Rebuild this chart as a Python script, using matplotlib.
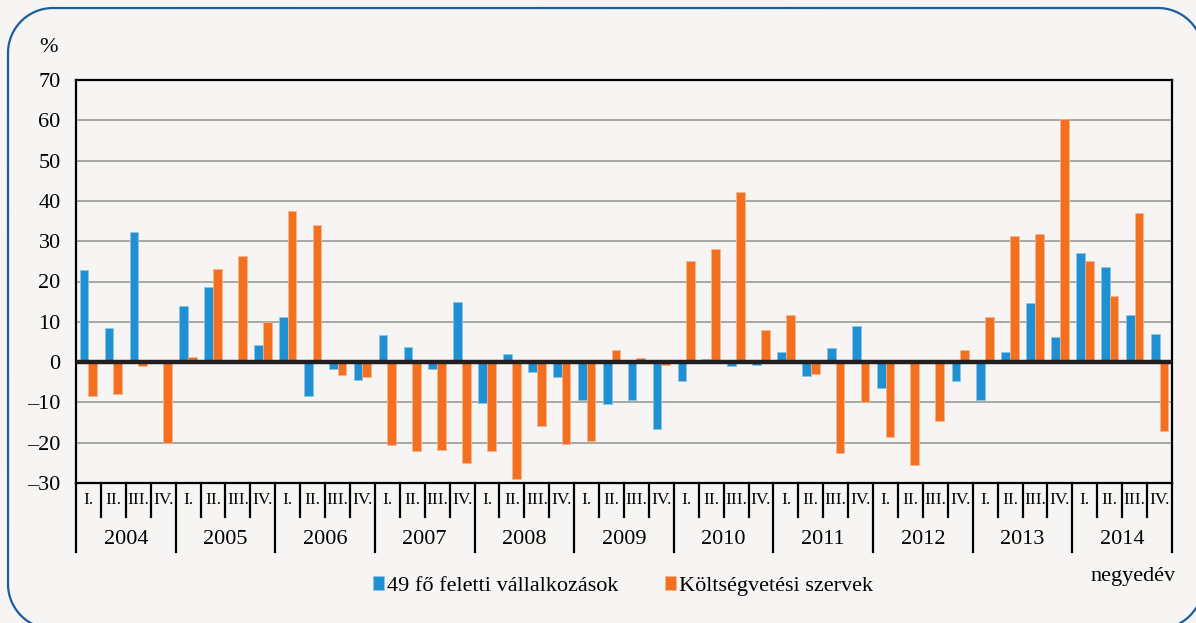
import matplotlib
matplotlib.use("Agg")
import matplotlib.pyplot as plt
import matplotlib.transforms as mtransforms
from matplotlib.lines import Line2D
import numpy as np

# ---- data ----
years = ["2004", "2005", "2006", "2007", "2008", "2009", "2010", "2011", "2012", "2013", "2014"]
quarters = ["I.", "II.", "III.", "IV."]
series_names = ["49 fő feletti vállalkozások", "Költségvetési szervek"]

vallalkozasok = [
    22.8, 8.4, 32.2, 0.0,
    13.9, 18.6, 0.6, 4.2,
    11.2, -8.4, -1.8, -4.4,
    6.8, 3.8, -1.7, 15.0,
    -10.2, 2.0, -2.4, -3.6,
    -9.4, -10.4, -9.3, -16.7,
    -4.7, 0.7, -0.9, -0.6,
    2.5, -3.4, 3.6, 8.9,
    -6.4, 0.0, 0.5, -4.6,
    -9.4, 2.5, 14.6, 6.3,
    27.0, 23.7, 11.7, 7.0,
]
koltsegvetesi = [
    -8.4, -7.9, -0.9, -20.0,
    1.3, 23.0, 26.3, 9.9,
    37.4, 34.0, -3.3, -3.6,
    -20.6, -22.1, -21.7, -25.0,
    -22.1, -28.9, -15.9, -20.4,
    -19.5, 3.1, 0.9, -0.6,
    25.1, 28.0, 42.2, 7.9,
    11.6, -3.0, -22.6, -9.9,
    -18.6, -25.6, -14.7, 2.9,
    11.2, 31.3, 31.8, 60.2,
    25.1, 16.4, 36.9, -17.2,
]

BLUE = "#1f90d2"
ORANGE = "#f37021"
BG = "#f6f5f3"
FONT = "Liberation Serif"

plt.rcParams["font.family"] = [FONT, "DejaVu Serif"]

W, H = 1196, 623
fig = plt.figure(figsize=(W / 100, H / 100), dpi=100, facecolor=BG)

# rounded frame drawn in pixel coordinates (origin bottom-left)
x0, x1 = 8, 1203
y0, y1 = -6, H - 8
r = 45
pts = []
def arc(cx, cy, a0, a1):
    t = np.linspace(np.radians(a0), np.radians(a1), 40)
    return list(zip(cx + r * np.cos(t), cy + r * np.sin(t)))
pts += arc(x1 - r, y1 - r, 0, 90)
pts += arc(x0 + r, y1 - r, 90, 180)
pts += arc(x0 + r, y0 + r, 180, 270)
pts += arc(x1 - r, y0 + r, 270, 360)
pts.append(pts[0])
px, py = zip(*pts)
fig.add_artist(Line2D(px, py, transform=mtransforms.IdentityTransform(),
                      color="#1b5e9e", linewidth=1.6))

left, right, top, bottom = 76, 1172, 80, 483
ax = fig.add_axes([left / W, 1 - bottom / H, (right - left) / W, (bottom - top) / H])
ax.set_facecolor(BG)

n = len(vallalkozasok)
x = np.arange(n)
bw = 0.35
ax.bar(x - bw / 2, vallalkozasok, width=bw, color=BLUE, edgecolor="#8cc6ea",
       linewidth=0.5, label=series_names[0], zorder=3)
ax.bar(x + bw / 2, koltsegvetesi, width=bw, color=ORANGE, edgecolor="#f9b48c",
       linewidth=0.5, label=series_names[1], zorder=3)

ax.set_xlim(-0.5, n - 0.5)
ax.set_ylim(-30, 70)
ax.set_yticks(np.arange(-30, 71, 10))
ax.set_yticklabels([f"{v}".replace("-", "–") for v in range(-30, 71, 10)],
                   fontsize=16, fontfamily=FONT)
ax.tick_params(axis="y", length=0, pad=11)
ax.set_xticks([])
ax.grid(axis="y", color="#9a9a9a", linewidth=1.2, zorder=1)
ax.set_axisbelow(True)
ax.axhline(0, color="#231f20", linewidth=3.2, zorder=4)
for s in ax.spines.values():
    s.set_color("black")
    s.set_linewidth(1.6)

# two-level category axis
trans = mtransforms.blended_transform_factory(ax.transData, ax.transAxes)
short_y = -(517 - 483) / (bottom - top)
long_y = -(552 - 483) / (bottom - top)
for i in range(n + 1):
    yb = long_y if i % 4 == 0 else short_y
    ax.plot([i - 0.5, i - 0.5], [0, yb], transform=trans, color="black",
            linewidth=1.6, clip_on=False, zorder=5)
q_y = -(500 - 483) / (bottom - top)
y_y = -(540 - 483) / (bottom - top)
for i in range(n):
    ax.text(i, q_y, quarters[i % 4], transform=trans, ha="center", va="center",
            fontsize=12.5, fontfamily=FONT)
for k, yr in enumerate(years):
    ax.text(4 * k + 1.5, y_y, yr, transform=trans, ha="center", va="center",
            fontsize=16, fontfamily=FONT)

# labels
fig.text(48.5 / W, 1 - 47 / H, "%", ha="center", va="center", fontsize=16, fontfamily=FONT)
fig.text(1176 / W, 1 - 577 / H, "negyedév", ha="right", va="center", fontsize=16,
         fontfamily=FONT)

leg = ax.legend(loc="center", bbox_to_anchor=(623 / W, 1 - 586 / H),
                bbox_transform=fig.transFigure, ncol=2, frameon=False,
                handlelength=0.5, handleheight=0.6, handletextpad=0.15,
                columnspacing=2.1, prop={"family": FONT, "size": 16})

fig.savefig("out.png", dpi=100, facecolor=BG)
